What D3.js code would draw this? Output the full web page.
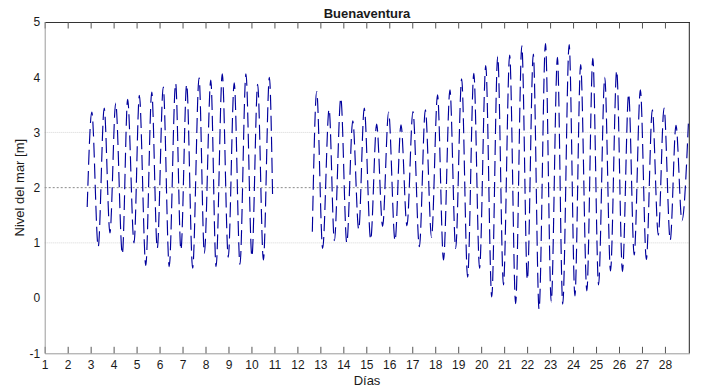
<!DOCTYPE html>
<html>
<head>
<meta charset="utf-8">
<script src="https://cdn.jsdelivr.net/npm/d3@7"></script>
<style>
  body { margin: 0; background: #fff; }
  svg text { font-family: 'Liberation Sans', Arial, sans-serif; fill: #1a1a1a; }
</style>
</head>
<body>
<div id="chart"></div>
<script>
// Tide record, Buenaventura (turning points of the curve)
const TITLE = 'Buenaventura';
const X_LABEL = 'Días';
const Y_LABEL = 'Nivel del mar [m]';
const X_TICKS = [1, 2, 3, 4, 5, 6, 7, 8, 9, 10, 11, 12, 13, 14, 15, 16, 17, 18, 19, 20, 21, 22, 23, 24, 25, 26, 27, 28];
const Y_TICKS = [-1, 0, 1, 2, 3, 4, 5];
const X_DOMAIN = [1, 29.06];
const Y_DOMAIN = [-1, 5];
const REF_LEVELS = [1, 2, 3];

// first stretch of record (days 2.85 – 10.9)
const seg1Days = [2.85, 3.05, 3.33, 3.59, 3.84, 4.09, 4.38, 4.61, 4.89, 5.12, 5.40, 5.66, 5.90, 6.16, 6.42, 6.70,
  6.93, 7.18, 7.44, 7.72, 7.95, 8.23, 8.46, 8.73, 8.99, 9.25, 9.50, 9.76, 10.02, 10.27, 10.52, 10.78, 10.92];
const seg1Levels = [1.65, 3.37, 0.93, 3.44, 1.18, 3.53, 0.80, 3.60, 1.00, 3.67, 0.59, 3.73, 0.90, 3.82, 0.57, 3.89,
  0.87, 3.87, 0.54, 3.99, 0.81, 3.95, 0.57, 4.06, 0.74, 3.90, 0.61, 4.06, 0.75, 3.87, 0.69, 4.00, 1.85];

// second stretch of record (days 12.65 – 29)
const seg2Days = [12.65, 12.84, 13.10, 13.38, 13.61, 13.89, 14.15, 14.41, 14.67, 14.91, 15.19, 15.45, 15.71, 15.97,
  16.25, 16.51, 16.77, 17.03, 17.31, 17.57, 17.84, 18.10, 18.36, 18.64, 18.89, 19.15, 19.41, 19.68, 19.93, 20.20,
  20.46, 20.72, 20.97, 21.24, 21.50, 21.77, 22.01, 22.27, 22.52, 22.80, 23.05, 23.32, 23.55, 23.83, 24.08, 24.33,
  24.60, 24.86, 25.11, 25.38, 25.63, 25.90, 26.15, 26.42, 26.66, 26.93, 27.19, 27.45, 27.71, 27.96, 28.23, 28.48,
  28.74, 29.02];
const seg2Levels = [1.20, 3.74, 0.90, 3.42, 1.04, 3.62, 1.00, 3.21, 1.24, 3.44, 1.06, 3.15, 1.30, 3.37,
  1.04, 3.14, 1.31, 3.38, 0.93, 3.41, 1.10, 3.68, 0.69, 3.77, 0.90, 3.97, 0.38, 4.07, 0.54, 4.21,
  0.02, 4.38, 0.24, 4.40, -0.10, 4.57, 0.33, 4.42, -0.20, 4.61, -0.07, 4.36, -0.11, 4.59, 0.04, 4.23,
  0.13, 4.34, 0.24, 4.00, 0.49, 4.12, 0.48, 3.70, 0.78, 3.77, 0.70, 3.41, 1.14, 3.44, 1.05, 3.13,
  1.40, 3.16];

const W = 724, H = 390;
const m = { top: 22, right: 34.7, bottom: 36.7, left: 44.7 };
const w = W - m.left - m.right;
const h = H - m.top - m.bottom;

const svg = d3.select('#chart').append('svg')
  .attr('width', W).attr('height', H);
const g = svg.append('g').attr('transform', `translate(${m.left},${m.top})`);

const x = d3.scaleLinear().domain(X_DOMAIN).range([0, w]);
const y = d3.scaleLinear().domain(Y_DOMAIN).range([h, 0]);

// reference levels (dotted)
g.selectAll('.ref')
  .data(REF_LEVELS)
  .enter().append('line')
  .attr('x1', 0).attr('x2', w)
  .attr('y1', d => y(d)).attr('y2', d => y(d))
  .attr('stroke', d => d === 2 ? '#8a8a8a' : '#d6d6d6')
  .attr('stroke-width', 1)
  .attr('stroke-dasharray', d => d === 2 ? '2,2' : '1,1');

// the tide curve (drawn dashed, the way it reads in the figure)
g.append('clipPath').attr('id', 'plot-clip')
  .append('rect').attr('width', w).attr('height', h);

const line = d3.line()
  .x(d => x(d[0]))
  .y(d => y(d[1]))
  .curve(d3.curveMonotoneX);

const segments = [d3.zip(seg1Days, seg1Levels), d3.zip(seg2Days, seg2Levels)];
g.append('g').attr('clip-path', 'url(#plot-clip)')
  .selectAll('path')
  .data(segments)
  .enter().append('path')
  .attr('d', line)
  .attr('fill', 'none')
  .attr('stroke', '#00009c')
  .attr('stroke-width', 1.15)
  .attr('stroke-dasharray', '15,6');

// axes
const xBottom = g.append('g')
  .attr('transform', `translate(0,${h})`)
  .call(d3.axisBottom(x).tickValues(X_TICKS).tickSizeInner(-6.5).tickSizeOuter(0).tickPadding(7));
const xTop = g.append('g')
  .call(d3.axisTop(x).tickValues(X_TICKS).tickSizeInner(-6.5).tickSizeOuter(0).tickFormat(''));
const yLeft = g.append('g')
  .call(d3.axisLeft(y).tickValues(Y_TICKS).tickSize(0).tickPadding(4.5).tickFormat(d => String(d)));

[xBottom, yLeft].forEach(a => {
  a.select('.domain').attr('stroke', '#9a9a9a');
  a.selectAll('.tick line').attr('stroke', '#555');
  a.selectAll('.tick text')
    .style('font-size', '12px')
    .attr('fill', '#1a1a1a');
});
xTop.select('.domain').attr('stroke', '#333');
xTop.selectAll('.tick line').attr('stroke', '#555');

// right edge of the box
g.append('line')
  .attr('x1', w).attr('x2', w).attr('y1', 0).attr('y2', h)
  .attr('stroke', '#222');

// title and axis labels
svg.append('text')
  .attr('x', m.left + w / 2).attr('y', 18)
  .attr('text-anchor', 'middle')
  .style('font-size', '13px')
  .style('font-weight', 'bold')
  .text(TITLE);

svg.append('text')
  .attr('x', m.left + w / 2).attr('y', 385)
  .attr('text-anchor', 'middle')
  .style('font-size', '13px')
  .text(X_LABEL);

svg.append('text')
  .attr('transform', `translate(24,${m.top + h / 2}) rotate(-90)`)
  .attr('text-anchor', 'middle')
  .style('font-size', '13px')
  .text(Y_LABEL);
</script>
</body>
</html>
